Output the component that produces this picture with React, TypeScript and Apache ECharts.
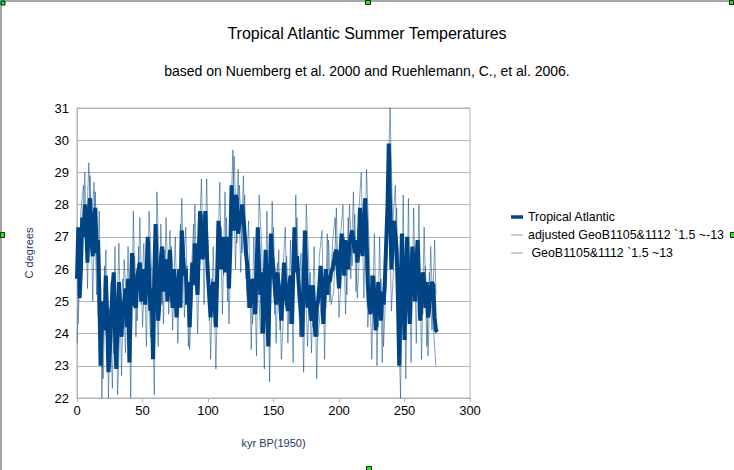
import React, { useEffect, useRef } from "react";
import * as echarts from "echarts";

// kyr positions of the Tropical Atlantic series (1 kyr resolution)
const kyrTropical = [
  0, 1, 2, 3, 4, 5, 6, 7, 8, 9, 10, 11, 12, 13, 14, 15, 16, 17, 18, 19,
  20, 21, 22, 23, 24, 25, 26, 27, 28, 29, 30, 31, 32, 33, 34, 35, 36, 37, 38, 39,
  40, 41, 42, 43, 44, 45, 46, 47, 48, 49, 50, 51, 52, 53, 54, 55, 56, 57, 58, 59,
  60, 61, 62, 63, 64, 65, 66, 67, 68, 69, 70, 71, 72, 73, 74, 75, 76, 77, 78, 79,
  80, 81, 82, 83, 84, 85, 86, 87, 88, 89, 90, 91, 92, 93, 94, 95, 96, 97, 98, 99,
  100, 101, 102, 103, 104, 105, 106, 107, 108, 109, 110, 111, 112, 113, 114, 115, 116, 117, 118, 119,
  120, 121, 122, 123, 124, 125, 126, 127, 128, 129, 130, 131, 132, 133, 134, 135, 136, 137, 138, 139,
  140, 141, 142, 143, 144, 145, 146, 147, 148, 149, 150, 151, 152, 153, 154, 155, 156, 157, 158, 159,
  160, 161, 162, 163, 164, 165, 166, 167, 168, 169, 170, 171, 172, 173, 174, 175, 176, 177, 178, 179,
  180, 181, 182, 183, 184, 185, 186, 187, 188, 189, 190, 191, 192, 193, 194, 195, 196, 197, 198, 199,
  200, 201, 202, 203, 204, 205, 206, 207, 208, 209, 210, 211, 212, 213, 214, 215, 216, 217, 218, 219,
  220, 221, 222, 223, 224, 225, 226, 227, 228, 229, 230, 231, 232, 233, 234, 235, 236, 237, 238, 239,
  240, 241, 242, 243, 244, 245, 246, 247, 248, 249, 250, 251, 252, 253, 254, 255, 256, 257, 258, 259,
  260, 261, 262, 263, 264, 265, 266, 267, 268, 269, 270, 271, 272, 273, 274, 275,
];

const tropical = [
  25.7, 27.3, 25.1, 26.0, 27.6, 27.0, 28.0, 27.4, 26.2, 27.8, 28.2, 26.9, 26.4, 27.6, 27.9, 26.5, 26.9, 25.4, 23.0, 24.2,
  25.0, 24.1, 25.8, 24.6, 22.8, 23.4, 24.4, 25.3, 25.9, 24.1, 22.9, 24.4, 25.6, 24.7, 23.9, 24.9, 25.0, 25.4, 24.2, 25.7,
  23.1, 25.0, 26.5, 25.5, 24.9, 24.8, 25.8, 26.0, 26.2, 25.0, 25.4, 26.0, 24.9, 25.8, 27.0, 25.9, 24.7, 25.4, 23.2, 25.8,
  27.4, 25.6, 24.4, 25.0, 26.3, 26.7, 25.3, 26.2, 26.3, 25.0, 25.8, 26.6, 25.4, 24.8, 26.0, 25.4, 24.5, 25.2, 26.0, 24.8,
  27.2, 26.4, 25.8, 26.0, 24.9, 25.6, 24.2, 25.3, 26.2, 25.5, 26.8, 25.9, 25.2, 26.6, 27.8, 26.9, 26.3, 27.0, 27.8, 26.6,
  25.8, 25.1, 24.5, 25.3, 25.6, 25.0, 24.2, 25.8, 27.5, 26.9, 26.0, 26.5, 27.0, 25.9, 26.4, 27.0, 25.4, 26.6, 28.6, 27.6,
  27.2, 28.3, 28.2, 27.1, 27.4, 27.6, 28.0, 27.6, 27.1, 26.5, 26.1, 25.3, 24.8, 25.4, 25.7, 25.1, 24.6, 25.9, 27.3, 26.1,
  25.2, 25.9, 24.0, 25.2, 26.6, 25.1, 23.6, 25.4, 27.1, 26.4, 26.0, 25.4, 24.9, 25.9, 25.5, 25.1, 24.4, 25.3, 26.2, 25.5,
  25.0, 24.7, 25.5, 25.8, 24.3, 25.8, 27.3, 25.9, 26.4, 25.7, 25.1, 24.6, 23.9, 25.6, 27.2, 25.9, 24.8, 25.5, 24.7, 24.4,
  25.5, 24.8, 23.9, 24.8, 25.0, 25.5, 26.1, 25.4, 24.3, 25.3, 26.0, 25.2, 25.8, 25.6, 25.9, 26.0, 26.2, 26.5, 26.6, 26.0,
  25.4, 26.4, 27.1, 26.4, 25.8, 26.9, 26.3, 26.0, 26.8, 27.0, 27.2, 26.9, 26.5, 26.9, 26.2, 26.6, 27.9, 27.0, 26.4, 27.5,
  28.2, 27.0, 25.5, 24.9, 24.6, 25.2, 25.8, 25.1, 24.1, 25.0, 25.6, 24.8, 24.4, 25.3, 24.9, 25.6, 26.8, 27.9, 29.9, 27.9,
  26.0, 26.8, 27.5, 27.1, 26.6, 25.1, 23.0, 25.2, 27.1, 25.4, 23.8, 25.6, 27.0, 25.4, 24.3, 25.6, 26.7, 25.8, 25.0, 26.2,
  26.9, 25.6, 24.4, 25.2, 25.9, 25.6, 24.8, 25.6, 24.5, 24.8, 25.4, 25.6, 25.5, 24.5, 24.1, 24.05,
];

// kyr positions of the adjusted GeoB1105&1112 record
const kyrAdjusted = [
  1, 3, 5, 7, 9, 11, 13, 15, 17, 19,
  21, 23, 25, 27, 29, 31, 33, 35, 37, 39,
  41, 43, 45, 47, 49, 51, 53, 55, 57, 59,
  61, 63, 65, 67, 69, 71, 73, 75, 77, 79,
  81, 83, 85, 87, 89, 91, 93, 95, 97, 99,
  101, 103, 105, 107, 109, 111, 113, 115, 117, 119,
  121, 123, 125, 127, 129, 131, 133, 135, 137, 139,
  141, 143, 145, 147, 149, 151, 153, 155, 157, 159,
  161, 163, 165, 167, 169, 171, 173, 175, 177, 179,
  181, 183, 185, 187, 189, 191, 193, 195, 197, 199,
  201, 203, 205, 207, 209, 211, 213, 215, 217, 219,
  221, 223, 225, 227, 229, 231, 233, 235, 237, 239,
  241, 243, 245, 247, 249, 251, 253, 255, 257, 259,
  261, 263, 265, 267, 269, 271, 273, 274,
];

const adjusted = [
  24.3, 27.8, 28.6, 26.9, 29.3, 27.0, 28.7, 25.2, 27.8, 22.0,
  26.1, 23.1, 24.8, 22.3, 26.7, 22.1, 24.6, 25.7, 23.4, 26.7,
  22.0, 27.8, 23.9, 26.7, 24.9, 26.8, 23.6, 27.8, 25.9, 22.1,
  28.4, 25.6, 24.9, 26.6, 25.2, 27.2, 24.1, 27.0, 23.7, 27.4,
  25.9, 27.3, 23.6, 25.6, 27.4, 25.3, 26.5, 28.8, 24.9, 28.8,
  24.4, 25.7, 24.2, 25.6, 28.7, 24.6, 28.4, 25.0, 27.0, 29.7,
  26.0, 29.1, 25.9, 28.9, 25.7, 27.5, 23.5, 27.0, 23.3, 28.3,
  26.7, 22.9, 27.8, 22.5, 28.1, 24.6, 26.2, 24.1, 25.8, 27.3,
  23.7, 26.9, 23.1, 28.3, 25.0, 26.5, 22.8, 28.0, 26.1, 23.4,
  26.7, 22.6, 26.4, 27.2, 23.2, 27.1, 25.0, 26.8, 27.6, 25.7,
  26.9, 28.0, 24.6, 27.6, 25.7, 28.4, 25.3, 27.7, 29.0, 25.1,
  29.1, 26.8, 23.2, 27.1, 23.0, 27.0, 23.1, 26.3, 28.0, 31.0,
  27.4, 28.6, 25.2, 22.0, 28.3, 22.6, 28.2, 23.1, 27.9, 23.7,
  28.0, 23.2, 27.3, 23.6, 25.9, 24.1, 26.9, 25.2,
];

// kyr positions of the GeoB1105&1112 record
const kyrGeoB = [
  0, 2, 4, 6, 8, 10, 12, 14, 16, 18,
  20, 22, 24, 26, 28, 30, 32, 34, 36, 38,
  40, 42, 44, 46, 48, 50, 52, 54, 56, 58,
  60, 62, 64, 66, 68, 70, 72, 74, 76, 78,
  80, 82, 84, 86, 88, 90, 92, 94, 96, 98,
  100, 102, 104, 106, 108, 110, 112, 114, 116, 118,
  120, 122, 124, 126, 128, 130, 132, 134, 136, 138,
  140, 142, 144, 146, 148, 150, 152, 154, 156, 158,
  160, 162, 164, 166, 168, 170, 172, 174, 176, 178,
  180, 182, 184, 186, 188, 190, 192, 194, 196, 198,
  200, 202, 204, 206, 208, 210, 212, 214, 216, 218,
  220, 222, 224, 226, 228, 230, 232, 234, 236, 238,
  240, 242, 244, 246, 248, 250, 252, 254, 256, 258,
  260, 262, 264, 266, 268, 270, 272, 274,
];

const geob = [
  23.7, 26.2, 27.0, 29.0, 25.4, 28.9, 25.0, 28.4, 24.6, 24.2,
  22.6, 26.6, 22.0, 25.6, 23.4, 24.0, 26.8, 22.7, 26.3, 24.8,
  23.8, 25.2, 26.4, 24.4, 27.6, 24.2, 25.9, 25.9, 23.9, 24.6,
  26.3, 23.6, 27.4, 24.3, 27.6, 24.6, 26.7, 25.0, 25.4, 24.8,
  28.2, 24.5, 26.1, 23.5, 25.3, 28.0, 24.0, 26.5, 27.7, 26.6,
  26.9, 23.2, 26.7, 22.9, 26.4, 27.3, 25.8, 27.6, 24.3, 27.4,
  29.5, 26.8, 28.6, 26.5, 28.3, 24.8, 26.0, 24.3, 25.9, 26.0,
  24.0, 25.3, 25.3, 24.8, 25.8, 27.3, 23.7, 26.6, 23.2, 24.9,
  26.4, 24.3, 25.6, 26.2, 27.6, 23.9, 25.1, 26.0, 23.6, 25.9,
  24.2, 25.0, 23.9, 24.8, 25.6, 24.8, 26.9, 24.9, 25.3, 27.9,
  24.5, 25.9, 27.0, 25.2, 28.0, 26.1, 27.7, 25.1, 26.8, 27.6,
  27.0, 24.2, 25.8, 24.6, 25.3, 24.2, 25.7, 23.6, 25.6, 29.0,
  24.7, 26.3, 27.9, 23.8, 25.8, 25.1, 25.8, 25.6, 25.5, 26.3,
  25.7, 25.7, 24.6, 26.1, 23.3, 26.7, 24.2, 23.0,
];

const seriesNames = [
  "Tropical Atlantic",
  "adjusted GeoB1105&1112 `1.5 ~-13",
  " GeoB1105&1112 `1.5 ~13",
];

const xTicks = { min: 0, max: 300, interval: 50 };
const yTicks = { min: 22, max: 31, interval: 1 };

const FONT = "'Liberation Sans', Arial, sans-serif";
const DARK = "#004586";
const LIGHT = "rgba(0,69,134,0.5)";

export default function App() {
  const ref = useRef<HTMLDivElement>(null);

  useEffect(() => {
    document.body.style.margin = "0";
    if (!ref.current) return;
    const chart = echarts.init(ref.current, undefined, { renderer: "svg" });
    const toPairs = (xs: number[], vals: number[]) => xs.map((k, i) => [k, vals[i]]);
    const handle = (x: number, y: number, w: number, h: number) => ({
      type: "rect",
      shape: { x, y, width: w, height: h },
      style: { fill: "#00ff00", stroke: "#1a1a1a", lineWidth: 1 },
      z: 100,
    });
    chart.setOption({
      animation: false,
      backgroundColor: "#ffffff",
      textStyle: { fontFamily: FONT },
      title: [
        {
          text: "Tropical Atlantic Summer Temperatures",
          left: "center",
          top: 20,
          textStyle: { fontFamily: FONT, fontSize: 16, fontWeight: "normal", color: "#000000" },
        },
        {
          text: "based on Nuemberg et al. 2000 and Ruehlemann, C., et al. 2006.",
          left: "center",
          top: 59,
          textStyle: { fontFamily: FONT, fontSize: 14, fontWeight: "normal", color: "#000000" },
        },
      ],
      legend: {
        orient: "vertical",
        left: 511,
        top: 211,
        padding: 0,
        itemWidth: 12,
        itemHeight: 12,
        itemGap: 6,
        textStyle: { fontFamily: FONT, fontSize: 12.4, color: "#000000" },
        data: [
          { name: seriesNames[0], icon: "path://M0,0L12,0L12,3.5L0,3.5Z", itemStyle: { color: DARK } },
          { name: seriesNames[1], icon: "path://M0,0L12,0L12,1L0,1Z", itemStyle: { color: LIGHT } },
          { name: seriesNames[2], icon: "path://M0,0L12,0L12,1L0,1Z", itemStyle: { color: LIGHT } },
        ],
      },
      grid: {
        left: 77,
        right: 264,
        top: 108,
        bottom: 72,
        show: true,
        borderColor: "#b3b3b3",
        borderWidth: 1,
      },
      xAxis: {
        type: "value",
        min: xTicks.min,
        max: xTicks.max,
        interval: xTicks.interval,
        name: "kyr BP(1950)",
        nameLocation: "middle",
        nameGap: 39,
        nameTextStyle: { fontFamily: FONT, fontSize: 11, color: "#1f3864" },
        axisLine: { show: true, lineStyle: { color: "#b3b3b3" } },
        axisTick: { show: true, length: 4, lineStyle: { color: "#b3b3b3" } },
        axisLabel: { fontFamily: FONT, fontSize: 13, color: "#000000", margin: 6 },
        splitLine: { show: false },
      },
      yAxis: {
        type: "value",
        min: yTicks.min,
        max: yTicks.max,
        interval: yTicks.interval,
        name: "C degrees",
        nameLocation: "middle",
        nameGap: 43,
        nameRotate: 90,
        nameTextStyle: { fontFamily: FONT, fontSize: 11, color: "#1f3864" },
        axisLine: { show: true, lineStyle: { color: "#b3b3b3" } },
        axisTick: { show: false },
        axisLabel: { fontFamily: FONT, fontSize: 13, color: "#000000", margin: 8 },
        splitLine: { show: true, lineStyle: { color: "#b3b3b3", width: 1 } },
      },
      series: [
        {
          name: seriesNames[0],
          type: "line",
          data: toPairs(kyrTropical, tropical),
          symbol: "none",
          lineStyle: { width: 4, color: DARK },
          itemStyle: { color: DARK },
          z: 2,
        },
        {
          name: seriesNames[1],
          type: "line",
          data: toPairs(kyrAdjusted, adjusted),
          symbol: "none",
          lineStyle: { width: 1, color: LIGHT },
          itemStyle: { color: LIGHT },
          z: 3,
        },
        {
          name: seriesNames[2],
          type: "line",
          data: toPairs(kyrGeoB, geob),
          symbol: "none",
          lineStyle: { width: 1, color: LIGHT },
          itemStyle: { color: LIGHT },
          z: 3,
        },
      ],
      graphic: [
        {
          type: "line",
          shape: { x1: 0, y1: 1, x2: 734, y2: 1 },
          style: { stroke: "#a6a6a6", lineWidth: 2 },
          z: 90,
        },
        {
          type: "line",
          shape: { x1: 1, y1: 0, x2: 1, y2: 470 },
          style: { stroke: "#a6a6a6", lineWidth: 2 },
          z: 90,
        },
        handle(1, 1, 4, 4),
        handle(365.5, 0.5, 5, 4),
        handle(729.5, 0.5, 4, 4),
        handle(0.5, 232.5, 4, 5),
        handle(730.5, 232.5, 4, 5),
        handle(366.5, 466.5, 5, 4),
      ],
    });
    return () => chart.dispose();
  }, []);

  return <div ref={ref} style={{ width: 734, height: 470 }} />;
}
